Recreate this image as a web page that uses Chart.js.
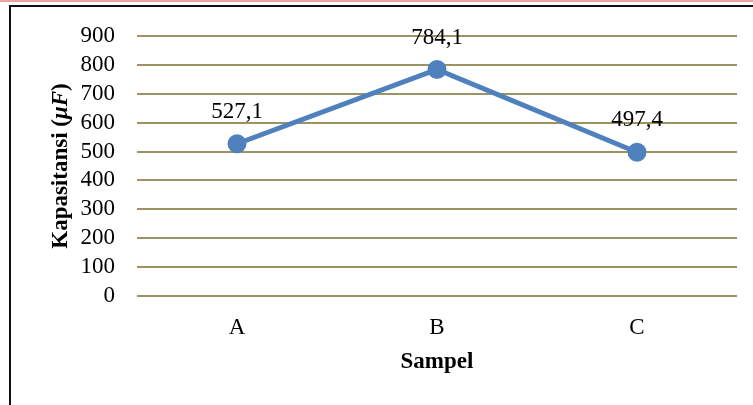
<!DOCTYPE html>
<html>
<head>
<meta charset="utf-8">
<script src="https://cdn.jsdelivr.net/npm/chart.js@4.4.1/dist/chart.umd.min.js"></script>
<style>
  html, body { margin: 0; padding: 0; background: #fff; }
  #wrap { position: relative; width: 753px; height: 405px; overflow: hidden; }
  #topline { position: absolute; left: 0; top: 0; width: 753px; height: 2px; background: #eba3a3; }
  #frame { position: absolute; left: 9px; top: 5px; width: 800px; height: 500px;
           border-left: 2px solid #111; border-top: 2px solid #111; }
  canvas { position: absolute; left: 0; top: 0; }
</style>
</head>
<body>
<div id="wrap">
  <div id="topline"></div>
  <div id="frame"></div>
  <canvas id="chart" width="753" height="405"></canvas>
</div>
<script>
// Capacitance per sample
const categories = ['A', 'B', 'C'];
const capacitance = [527.1, 784.1, 497.4];
const valueLabels = ['527,1', '784,1', '497,4'];
const yTicks = [0, 100, 200, 300, 400, 500, 600, 700, 800, 900];

const SERIF = '"Liberation Serif", "Times New Roman", serif';
const FS = 23;

// Axis titles and value labels drawn on top of the chart
const annotate = {
  id: 'annotate',
  afterDatasetsDraw(chart) {
    const ctx = chart.ctx;
    const area = chart.chartArea;
    const meta = chart.getDatasetMeta(0);
    ctx.save();
    ctx.fillStyle = '#000';
    ctx.textAlign = 'center';
    ctx.textBaseline = 'middle';
    ctx.font = FS + 'px ' + SERIF;
    meta.data.forEach((pt, i) => {
      ctx.fillText(valueLabels[i], pt.x, pt.y - 32);
    });

    // x title
    ctx.font = 'bold ' + FS + 'px ' + SERIF;
    ctx.fillText('Sampel', (area.left + area.right) / 2, 362);

    // y title, rotated, with italic symbol
    const parts = [
      { t: 'Kapasitansi (', f: 'bold ' + FS + 'px ' + SERIF },
      { t: 'μF', f: 'italic bold ' + FS + 'px ' + SERIF },
      { t: ')', f: 'bold ' + FS + 'px ' + SERIF }
    ];
    let total = 0;
    parts.forEach(p => { ctx.font = p.f; p.w = ctx.measureText(p.t).width; total += p.w; });
    ctx.translate(61, (area.top + area.bottom) / 2);
    ctx.rotate(-Math.PI / 2);
    ctx.textAlign = 'left';
    let x = -total / 2;
    parts.forEach(p => { ctx.font = p.f; ctx.fillText(p.t, x, 0); x += p.w; });
    ctx.restore();
  }
};

new Chart(document.getElementById('chart'), {
  type: 'line',
  data: {
    labels: categories,
    datasets: [{
      data: capacitance,
      borderColor: '#4f81bd',
      backgroundColor: '#4f81bd',
      borderWidth: 5,
      pointRadius: 7,
      pointHoverRadius: 7,
      pointBackgroundColor: '#4f81bd',
      pointBorderColor: '#4f81bd',
      tension: 0,
      fill: false
    }]
  },
  options: {
    responsive: false,
    animation: false,
    events: [],
    layout: { padding: { left: 0, top: 36, right: 16, bottom: 0 } },
    plugins: {
      legend: { display: false },
      tooltip: { enabled: false }
    },
    scales: {
      x: {
        offset: true,
        grid: { display: false, drawTicks: false },
        border: { display: false },
        ticks: { color: '#000', font: { family: SERIF, size: FS }, padding: 18 },
        afterFit(scale) { scale.height = 109; }
      },
      y: {
        min: 0,
        max: 900,
        afterBuildTicks(scale) { scale.ticks = yTicks.map(v => ({ value: v })); },
        grid: { color: '#9c9363', lineWidth: 2, drawTicks: false },
        border: { display: false },
        ticks: { color: '#000', font: { family: SERIF, size: FS }, padding: 22, autoSkip: false },
        afterFit(scale) { scale.width = 137; }
      }
    }
  },
  plugins: [annotate]
});
</script>
</body>
</html>
